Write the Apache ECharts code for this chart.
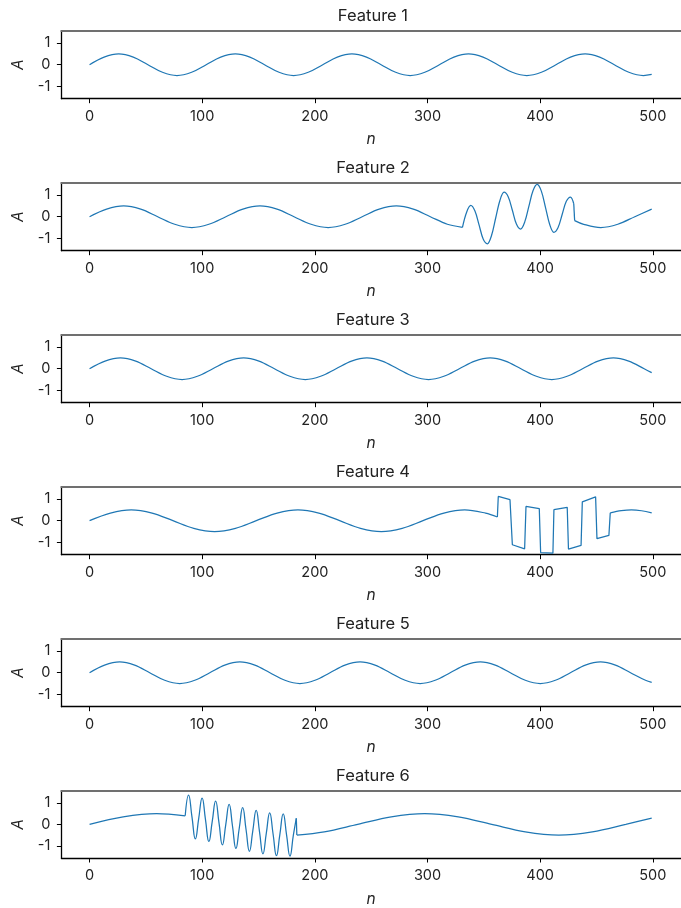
<!DOCTYPE html>
<html><head><meta charset="utf-8">
<script src="https://cdn.jsdelivr.net/npm/echarts@6/dist/echarts.min.js"></script>
<style>html,body{margin:0;padding:0;background:#fff}#c{width:681px;height:908px}</style>
</head><body><div id="c"></div>
<script>
// ---- data (n, A) ----
const titles = ['Feature 1','Feature 2','Feature 3','Feature 4','Feature 5','Feature 6'];
const xTicks = [0,100,200,300,400,500];
const yTicks = [-1,0,1];

const feature1 = [[0,0],[12.9,0.35],[25.9,0.5],[38.8,0.35],[51.8,0],[64.7,-0.35],[77.6,-0.5],[90.6,-0.35],
[103.5,0],[116.4,0.35],[129.4,0.5],[142.3,0.35],[155.3,0],[168.2,-0.35],[181.1,-0.5],[194.1,-0.35],
[207,0],[219.9,0.35],[232.9,0.5],[245.8,0.35],[258.8,0],[271.7,-0.35],[284.6,-0.5],[297.6,-0.35],
[310.5,0],[323.4,0.35],[336.4,0.5],[349.3,0.35],[362.3,0],[375.2,-0.35],[388.1,-0.5],[401.1,-0.35],
[414,0],[426.9,0.35],[439.9,0.5],[452.8,0.35],[465.8,0],[478.7,-0.35],[491.6,-0.5],[499,-0.45]];

const feature2Pre = [[0,0],[15.1,0.35],[30.3,0.5],[45.4,0.35],[60.5,0],[75.6,-0.35],[90.8,-0.5],[105.9,-0.35],
[121,0],[136.1,0.35],[151.3,0.5],[166.4,0.35],[181.5,0],[196.6,-0.35],[211.8,-0.5],[226.9,-0.35],
[242,0],[257.1,0.35],[272.3,0.5],[287.4,0.35],[302.5,0],[317.6,-0.35],[331,-0.49]];
const feature2Burst = [[331,-0.49],[334.7,0.21],[338.4,0.52],[342.1,0.26],[345.8,-0.39],[349.4,-1.03],[353.1,-1.25],[356.8,-0.87],
[360.5,-0.06],[364.2,0.74],[367.9,1.13],[371.6,0.92],[375.3,0.30],[378.9,-0.34],[382.6,-0.57],[386.3,-0.24],
[390,0.49],[393.7,1.21],[397.4,1.49],[401.1,1.17],[404.8,0.41],[408.4,-0.35],[412.1,-0.72],[415.8,-0.51],
[419.5,0.10],[423.2,0.71],[426.9,0.91],[429.8,0.6]];
const feature2Drop = [[429.8,0.6],[430.6,-0.18]];
const feature2Post = [[430.6,-0.18],[438.6,-0.35],[453.8,-0.5],[468.9,-0.35],[484,0],[499,0.35]];

const feature3 = [[0,0],[13.7,0.35],[27.4,0.5],[41,0.35],[54.7,0],[68.4,-0.35],[82.1,-0.5],[95.7,-0.35],
[109.4,0],[123.1,0.35],[136.8,0.5],[150.4,0.35],[164.1,0],[177.8,-0.35],[191.5,-0.5],[205.1,-0.35],
[218.8,0],[232.5,0.35],[246.2,0.5],[259.8,0.35],[273.5,0],[287.2,-0.35],[300.9,-0.5],[314.5,-0.35],
[328.2,0],[341.9,0.35],[355.6,0.5],[369.2,0.35],[382.9,0],[396.6,-0.35],[410.3,-0.5],[423.9,-0.35],
[437.6,0],[451.3,0.35],[465,0.5],[478.6,0.35],[492.3,0],[499,-0.18]];

const feature4Pre = [[0,0],[18.5,0.35],[37,0.5],[55.5,0.35],[74,0],[92.5,-0.35],[111,-0.5],[129.5,-0.35],
[148,0],[166.5,0.35],[185,0.5],[203.5,0.35],[222,0],[240.5,-0.35],[259,-0.5],[277.5,-0.35],
[296,0],[314.5,0.35],[333,0.5],[351.5,0.35],[362,0.17]];
const feature4Square = [[362,0.17],[362.8,1.12],[373.2,0.97],[375.3,-1.11],[386.2,-1.30],[387.4,0.66],[399.2,0.56],
[400.4,-1.47],[411.3,-1.50],[412.2,0.51],[424,0.62],[425.1,-1.31],[436.3,-1.14],[437.4,0.87],[449.2,1.10],
[450.4,-0.83],[461,-0.68],[462.2,0.36]];
const feature4Post = [[462.2,0.36],[472,0.46],[481,0.5],[490,0.46],[499,0.36]];

const feature5 = [[0,0],[13.3,0.35],[26.7,0.5],[40,0.35],[53.4,0],[66.7,-0.35],[80,-0.5],[93.4,-0.35],
[106.7,0],[120,0.35],[133.4,0.5],[146.7,0.35],[160.1,0],[173.4,-0.35],[186.7,-0.5],[200.1,-0.35],
[213.4,0],[226.7,0.35],[240.1,0.5],[253.4,0.35],[266.8,0],[280.1,-0.35],[293.4,-0.5],[306.8,-0.35],
[320.1,0],[333.4,0.35],[346.8,0.5],[360.1,0.35],[373.5,0],[386.8,-0.35],[400.1,-0.5],[413.5,-0.35],
[426.8,0],[440.1,0.35],[453.5,0.5],[466.8,0.35],[480.2,0],[493.5,-0.35],[499,-0.45]];

const feature6Pre = [[0,0],[29.8,0.35],[59.5,0.5],[84.9,0.4]];
const feature6Burst = [[84.9,0.40],[87.9,1.37],[90.9,0.35],[93.9,-0.68],[96.9,0.28],[99.9,1.23],[102.9,0.22],[105.9,-0.80],
[108.9,0.14],[111.9,1.08],[114.9,0.07],[117.9,-0.96],[120.9,-0.01],[123.9,0.93],[126.9,-0.09],[129.9,-1.12],
[132.9,-0.17],[135.9,0.78],[138.9,-0.24],[141.9,-1.26],[144.9,-0.30],[147.9,0.65],[150.9,-0.36],[153.9,-1.38],
[156.9,-0.41],[159.9,0.54],[162.9,-0.45],[165.9,-1.46],[168.9,-0.48],[171.9,0.49],[174.9,-0.50],[177.9,-1.48],
[180.9,-0.50],[183.5,0.28]];
const feature6Drop = [[183.5,0.28],[184,-0.5]];
const feature6Post = [[184,-0.5],[208.3,-0.35],[238,0],[267.8,0.35],[297.5,0.5],[327.3,0.35],[357,0],[386.8,-0.35],
[416.5,-0.5],[446.3,-0.35],[476,0],[499,0.29]];

// ---- chart ----
const panels = [
  [{d:feature1,s:0.35}],
  [{d:feature2Pre,s:0.35},{d:feature2Burst,s:0.35},{d:feature2Drop,s:0},{d:feature2Post,s:0.35}],
  [{d:feature3,s:0.35}],
  [{d:feature4Pre,s:0.35},{d:feature4Square,s:0},{d:feature4Post,s:0.35}],
  [{d:feature5,s:0.35}],
  [{d:feature6Pre,s:0.35},{d:feature6Burst,s:0.5},{d:feature6Drop,s:0},{d:feature6Post,s:0.35}]
];
const FONT = 'Inter';
const TXT = '#222';
const LEFT = 61.4, WIDTH = 623.1, TOP0 = 30.7, STEP = 152, H = 68;
const grids = [], xAxes = [], yAxes = [], series = [], graphics = [];
panels.forEach((segs, i) => {
  const top = TOP0 + STEP * i;
  grids.push({left: LEFT, top: top, width: WIDTH, height: H, containLabel: false});
  xAxes.push({
    type: 'value', gridIndex: i, min: -25, max: 525, position: 'bottom',
    axisLine: {show: true, onZero: false, lineStyle: {color: '#000', width: 1.3}},
    axisTick: {show: true, length: 4.5, customValues: xTicks, lineStyle: {color: '#000', width: 1}},
    axisLabel: {show: true, customValues: xTicks, margin: 10, fontSize: 14.5, color: TXT, fontFamily: FONT},
    splitLine: {show: false},
    name: 'n', nameLocation: 'middle', nameGap: 33,
    nameTextStyle: {fontStyle: 'italic', fontSize: 15.5, color: TXT, fontFamily: FONT}
  });
  xAxes.push({
    type: 'value', gridIndex: i, min: -25, max: 525, position: 'top',
    axisLine: {show: true, onZero: false, lineStyle: {color: '#707070', width: 2}},
    axisTick: {show: false}, axisLabel: {show: false}, splitLine: {show: false}
  });
  yAxes.push({
    type: 'value', gridIndex: i, min: -1.5708, max: 1.5708,
    axisLine: {show: true, onZero: false, lineStyle: {color: '#000', width: 1.3}},
    axisTick: {show: true, length: 4.5, customValues: yTicks, lineStyle: {color: '#000', width: 1}},
    axisLabel: {show: true, customValues: yTicks, margin: 11, fontSize: 14.5, color: TXT, fontFamily: FONT},
    splitLine: {show: false},
    name: 'A', nameLocation: 'middle', nameGap: 35, nameRotate: 90,
    nameTextStyle: {fontStyle: 'italic', fontSize: 15.5, color: TXT, fontFamily: FONT}
  });
  segs.forEach(sg => {
    series.push({
      type: 'line', xAxisIndex: 2 * i, yAxisIndex: i, data: sg.d,
      smooth: sg.s, symbol: 'none', showSymbol: false, silent: true,
      lineStyle: {color: '#1f77b4', width: 1.25}, animation: false
    });
  });
  graphics.push({
    type: 'text', x: LEFT + WIDTH / 2, y: top - 14.5,
    style: {text: titles[i], textAlign: 'center', textVerticalAlign: 'middle',
      font: '16.5px ' + FONT, fill: TXT}
  });
});
const chart = echarts.init(document.getElementById('c'), null, {renderer: 'canvas'});
chart.setOption({
  animation: false, backgroundColor: '#fff',
  grid: grids, xAxis: xAxes, yAxis: yAxes, series: series, graphic: graphics
});
</script></body></html>
